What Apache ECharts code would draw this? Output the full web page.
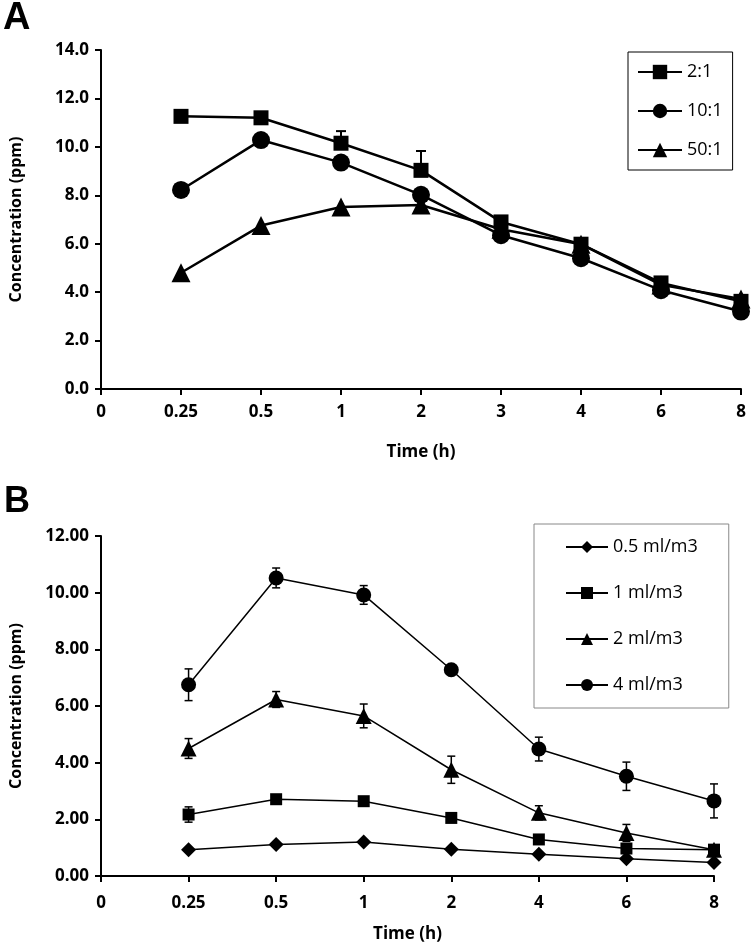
<!DOCTYPE html>
<html>
<head>
<meta charset="utf-8">
<script src="https://cdn.jsdelivr.net/npm/echarts@6/dist/echarts.min.js"></script>
<style>
html,body{margin:0;padding:0;background:#fff;}
#chart{width:756px;height:946px;}
</style>
</head>
<body>
<div id="chart"></div>
<script>
// ---------- Panel A data ----------
var catsA = ['0', '0.25', '0.5', '1', '2', '3', '4', '6', '8'];
var namesA = ['2:1', '10:1', '50:1'];
var a21 = ['-', 11.26, 11.2, 10.15, 9.03, 6.9, 5.98, 4.38, 3.62];
var a101 = ['-', 8.22, 10.28, 9.35, 8.02, 6.35, 5.4, 4.08, 3.2];
var a501 = ['-', 4.8, 6.75, 7.52, 7.6, 6.6, 5.98, 4.3, 3.72];
var a21ErrUp = [0, 0, 0, 0.5, 0.8, 0, 0, 0, 0];

// ---------- Panel B data ----------
var catsB = ['0', '0.25', '0.5', '1', '2', '4', '6', '8'];
var namesB = ['0.5 ml/m3', '1 ml/m3', '2 ml/m3', '4 ml/m3'];
var b05 = ['-', 0.93, 1.11, 1.2, 0.94, 0.77, 0.61, 0.48];
var b1 = ['-', 2.17, 2.71, 2.64, 2.05, 1.29, 0.97, 0.93];
var b2 = ['-', 4.5, 6.23, 5.65, 3.75, 2.23, 1.52, 0.93];
var b4 = ['-', 6.75, 10.52, 9.92, 7.28, 4.48, 3.52, 2.65];
var b05Err = [0, 0.05, 0.05, 0.05, 0.05, 0.05, 0.05, 0.05];
var b1Err = [0, 0.27, 0.08, 0.1, 0.08, 0.08, 0.06, 0.06];
var b2Err = [0, 0.35, 0.28, 0.42, 0.48, 0.25, 0.3, 0.1];
var b4Err = [0, 0.56, 0.35, 0.33, 0.1, 0.42, 0.5, 0.6];

var FONT = '"Open Sans", "DejaVu Sans", sans-serif';

function errData(vals, errUp, errDown) {
  var out = [];
  for (var i = 0; i < vals.length; i++) {
    if (vals[i] === '-' ) continue;
    var up = errUp[i] || 0, dn = errDown ? (errDown[i] || 0) : 0;
    if (up === 0 && dn === 0) continue;
    out.push([i, vals[i] - dn, vals[i] + up]);
  }
  return out;
}

function errSeries(data, gi, lw, cap) {
  return {
    type: 'custom',
    xAxisIndex: gi, yAxisIndex: gi,
    z: 1,
    silent: true,
    data: data,
    renderItem: function (params, api) {
      var x = api.value(0);
      var lo = api.coord([x, api.value(1)]);
      var hi = api.coord([x, api.value(2)]);
      var st = { stroke: '#000', lineWidth: lw };
      return {
        type: 'group',
        children: [
          { type: 'line', shape: { x1: lo[0], y1: lo[1], x2: hi[0], y2: hi[1] }, style: st },
          { type: 'line', shape: { x1: hi[0] - cap, y1: hi[1], x2: hi[0] + cap, y2: hi[1] }, style: st },
          { type: 'line', shape: { x1: lo[0] - cap, y1: lo[1], x2: lo[0] + cap, y2: lo[1] }, style: st }
        ]
      };
    }
  };
}

function lineSeries(name, data, gi, symbol, size, lw) {
  return {
    name: name, type: 'line', xAxisIndex: gi, yAxisIndex: gi,
    data: data, symbol: symbol, symbolSize: size, z: 3,
    lineStyle: { color: '#000', width: lw },
    itemStyle: { color: '#000', borderWidth: 0 },
    emphasis: { disabled: true },
    animation: false
  };
}

function xAxisDef(gi, cats, gap, margin) {
  return {
    type: 'category', gridIndex: gi, data: cats, boundaryGap: false,
    name: 'Time (h)', nameLocation: 'middle', nameGap: gap,
    nameTextStyle: { fontFamily: FONT, fontWeight: 'bold', fontSize: 17, color: '#000' },
    axisLine: { lineStyle: { color: '#000', width: 2 } },
    axisTick: { show: true, length: 6, alignWithLabel: true, lineStyle: { color: '#000', width: 2 } },
    axisLabel: { fontFamily: FONT, fontWeight: 'bold', fontSize: 17, color: '#000', margin: margin, interval: 0 },
    splitLine: { show: false }
  };
}

function yAxisDef(gi, max, dec) {
  return {
    type: 'value', gridIndex: gi, min: 0, max: max, interval: 2,
    name: 'Concentration (ppm)', nameLocation: 'middle', nameGap: 77, nameRotate: 90,
    nameTextStyle: { fontFamily: FONT, fontWeight: 'bold', fontSize: 16, color: '#000' },
    axisLine: { show: true, lineStyle: { color: '#000', width: 2 } },
    axisTick: { show: true, length: 6, lineStyle: { color: '#000', width: 2 } },
    axisLabel: { fontFamily: FONT, fontWeight: 'bold', fontSize: 17, color: '#000', margin: 12,
      formatter: function (v) { return v.toFixed(dec); } },
    splitLine: { show: false }
  };
}

var chart = echarts.init(document.getElementById('chart'), null, { renderer: 'canvas' });

var option = {
  animation: false,
  backgroundColor: '#fff',
  grid: [
    { left: 100, top: 50, width: 641, height: 339 },
    { left: 100, top: 536, width: 614, height: 340 }
  ],
  xAxis: [xAxisDef(0, catsA, 55, 15), xAxisDef(1, catsB, 50, 19)],
  yAxis: [yAxisDef(0, 14, 1), yAxisDef(1, 12, 2)],
  legend: [
    {
      data: namesA, orient: 'vertical', left: 628, top: 52,
      itemWidth: 44, itemHeight: 18, itemGap: 21,
      padding: [11, 10, 11, 9],
      borderColor: '#000', borderWidth: 1,
      textStyle: { fontFamily: FONT, fontSize: 18, color: '#000' },
      selectedMode: false
    },
    {
      data: namesB, orient: 'vertical', left: 534, top: 524,
      itemWidth: 42, itemHeight: 15, itemGap: 28,
      padding: [14, 31, 14, 31],
      borderColor: '#888', borderWidth: 1,
      textStyle: { fontFamily: FONT, fontSize: 18, color: '#000' },
      selectedMode: false
    }
  ],
  graphic: [
    { type: 'text', left: 3, top: 0, style: { text: 'A', font: 'bold 38px "Liberation Sans", Arial, sans-serif', fill: '#000' } },
    { type: 'text', left: 4, top: 484, style: { text: 'B', font: 'bold 36px "Liberation Sans", Arial, sans-serif', fill: '#000' } }
  ],
  series: [
    errSeries(errData(a21, a21ErrUp, null), 0, 2, 5),
    lineSeries('2:1', a21, 0, 'rect', 15, 2.5),
    lineSeries('10:1', a101, 0, 'circle', 18, 2.5),
    lineSeries('50:1', a501, 0, 'triangle', 19, 2.5),

    errSeries(errData(b05, b05Err, b05Err), 1, 1.5, 4),
    errSeries(errData(b1, b1Err, b1Err), 1, 1.5, 4),
    errSeries(errData(b2, b2Err, b2Err), 1, 1.5, 4),
    errSeries(errData(b4, b4Err, b4Err), 1, 1.5, 4),
    lineSeries('0.5 ml/m3', b05, 1, 'diamond', 15, 1.5),
    lineSeries('1 ml/m3', b1, 1, 'rect', 12, 1.5),
    lineSeries('2 ml/m3', b2, 1, 'triangle', 16, 1.5),
    lineSeries('4 ml/m3', b4, 1, 'circle', 15, 1.5)
  ]
};
chart.setOption(option);
</script>
</body>
</html>
